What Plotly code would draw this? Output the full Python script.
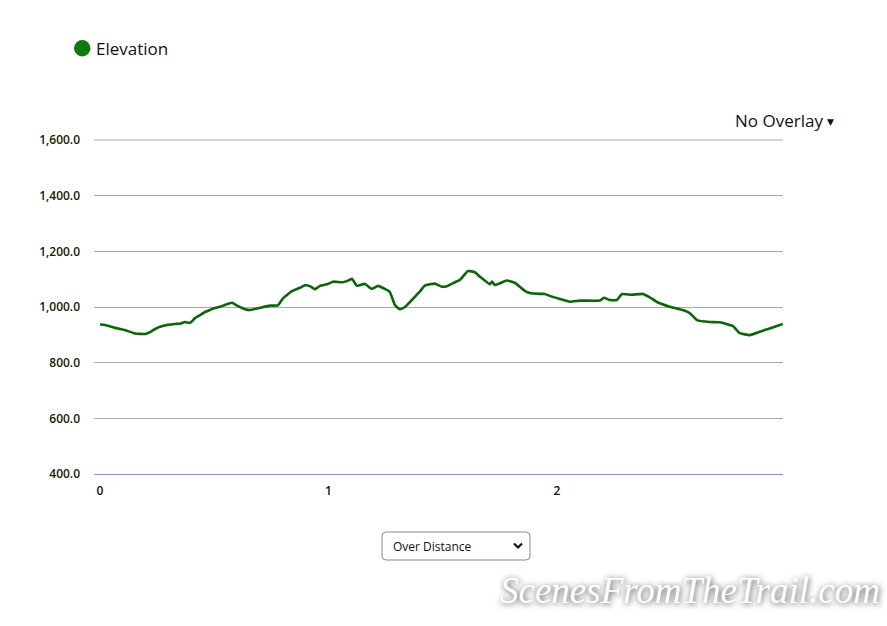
import plotly.graph_objects as go

# ---- data ----
distance = [0.000, 0.022, 0.066, 0.109, 0.153, 0.197, 0.219, 0.241, 0.263, 0.298,
            0.328, 0.350, 0.372, 0.394, 0.416, 0.438, 0.460, 0.481, 0.503, 0.525,
            0.578, 0.600, 0.635, 0.656, 0.700, 0.744, 0.779, 0.801, 0.840, 0.875,
            0.897, 0.919, 0.941, 0.963, 0.998, 1.020, 1.059, 1.081, 1.103, 1.125,
            1.160, 1.190, 1.217, 1.247, 1.269, 1.291, 1.313, 1.335, 1.365, 1.400,
            1.422, 1.466, 1.497, 1.519, 1.554, 1.575, 1.611, 1.641, 1.663, 1.707,
            1.716, 1.729, 1.781, 1.816, 1.860, 1.882, 1.926, 1.947, 1.969, 2.013,
            2.057, 2.101, 2.188, 2.206, 2.232, 2.263, 2.284, 2.328, 2.376, 2.407,
            2.438, 2.495, 2.551, 2.582, 2.613, 2.670, 2.713, 2.770, 2.801, 2.845,
            2.888, 2.932, 2.963, 2.989]
elevation = [937, 935, 925, 917, 905, 903, 910, 921, 929, 936,
             939, 940, 946, 943, 960, 971, 982, 989, 996, 1001,
             1015, 1005, 992, 989, 997, 1005, 1006, 1031, 1057, 1069,
             1078, 1075, 1064, 1076, 1083, 1091, 1089, 1093, 1101, 1076,
             1083, 1065, 1076, 1065, 1054, 1007, 992, 1000, 1025, 1055,
             1077, 1084, 1073, 1075, 1089, 1097, 1129, 1125, 1109, 1082,
             1091, 1079, 1095, 1087, 1058, 1050, 1047, 1047, 1040, 1029,
             1019, 1023, 1023, 1033, 1025, 1025, 1046, 1044, 1047, 1035,
             1018, 1001, 989, 978, 953, 946, 945, 932, 906, 899,
             911, 923, 932, 939]
y_ticks = [400, 600, 800, 1000, 1200, 1400, 1600]
x_ticks = [0, 1, 2]
series_name = "Elevation"

W, H = 887, 626
L, R, T, B = 94, 783, 140, 474


def px(x):
    return (x - L) / (R - L)


def py(y):
    return (B - y) / (B - T)


fig = go.Figure()
fig.add_trace(go.Scatter(
    x=distance, y=elevation, mode="lines", name=series_name,
    line=dict(color="#0b650b", width=2.6, shape="spline", smoothing=0.4),
    showlegend=False, hoverinfo="x+y"))

# dropdown box (rounded rectangle)
x0, x1, y0, y1, r = 382, 530, 532, 560, 4
path = (f"M {px(x0 + r)},{py(y0)} L {px(x1 - r)},{py(y0)} "
        f"Q {px(x1)},{py(y0)} {px(x1)},{py(y0 + r)} L {px(x1)},{py(y1 - r)} "
        f"Q {px(x1)},{py(y1)} {px(x1 - r)},{py(y1)} L {px(x0 + r)},{py(y1)} "
        f"Q {px(x0)},{py(y1)} {px(x0)},{py(y1 - r)} L {px(x0)},{py(y0 + r)} "
        f"Q {px(x0)},{py(y0)} {px(x0 + r)},{py(y0)} Z")
shapes = [
    dict(type="path", xref="paper", yref="paper", path=path,
         line=dict(color="#8a8a8a", width=1), fillcolor="white"),
    dict(type="path", xref="paper", yref="paper",
         path=f"M {px(514)},{py(543.5)} L {px(518)},{py(547.5)} L {px(522)},{py(543.5)}",
         line=dict(color="#111", width=2.2)),
    # legend marker
    dict(type="circle", xref="paper", yref="paper",
         x0=px(74), x1=px(90.5), y0=py(56.5), y1=py(40),
         line=dict(width=0), fillcolor="#0f780f"),
    # top grid line
    dict(type="line", xref="paper", yref="paper", x0=0, x1=1, y0=1, y1=1,
         line=dict(color="#a8a8a8", width=1)),
]

annotations = [
    dict(text=series_name, xref="paper", yref="paper", x=px(94), y=py(48.5),
         xanchor="left", yanchor="middle", showarrow=False,
         font=dict(family="Open Sans", size=17, color="#111")),
    dict(text="No Overlay", xref="paper", yref="paper", x=px(825), y=py(121),
         xanchor="right", yanchor="middle", showarrow=False,
         font=dict(family="Open Sans", size=17, color="#111")),
    dict(text="▼", xref="paper", yref="paper", x=px(825), y=py(122),
         xanchor="left", yanchor="middle", showarrow=False,
         font=dict(family="DejaVu Sans", size=9, color="#111")),
    dict(text="Over Distance", xref="paper", yref="paper", x=px(391), y=py(546.5),
         xanchor="left", yanchor="middle", showarrow=False,
         font=dict(family="Open Sans", size=12, color="#111")),
    dict(text="ScenesFromTheTrail.com", xref="paper", yref="paper",
         x=px(690), y=py(590), xanchor="center", yanchor="middle", showarrow=False,
         font=dict(family="Liberation Serif", size=37, color="white", style="italic",
                   shadow="1px 1px 6px #444")),
]

fig.update_layout(
    width=W, height=H,
    margin=dict(l=L, r=W - R, t=T, b=H - B, pad=0, autoexpand=False),
    paper_bgcolor="white", plot_bgcolor="white",
    font=dict(family="Open Sans", color="#1a1a1a"),
    showlegend=False,
    xaxis=dict(range=[-(6 / 228.5), 2.99], tickvals=x_ticks,
               ticktext=[str(v) for v in x_ticks],
               showgrid=False, zeroline=False, showline=True,
               linecolor="#8596bb", linewidth=1, ticks="",
               tickfont=dict(size=12, color="#111", weight=600),
               ticklabelstandoff=6, fixedrange=True, automargin=False),
    yaxis=dict(range=[400, 1600], tickvals=y_ticks, tickformat=",.1f",
               showgrid=True, gridcolor="#a8a8a8", gridwidth=1,
               zeroline=False, showline=False, ticks="",
               tickfont=dict(size=12, color="#1a2200", weight=600),
               ticklabelstandoff=13, fixedrange=True, automargin=False),
    shapes=shapes, annotations=annotations,
)

fig.write_html("out.html")
